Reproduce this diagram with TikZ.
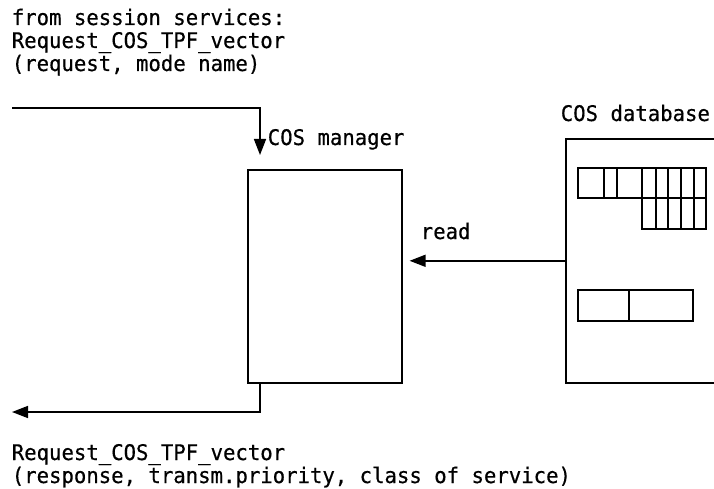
\documentclass[tikz,border=0pt]{standalone}
\usepackage{fontspec}
\setmonofont{DejaVu Sans Mono}[FakeStretch=0.96,FakeBold=0.5]
\usetikzlibrary{arrows.meta,calc}
\begin{document}
\begin{tikzpicture}[x=1pt,y=-1pt,line width=1.6pt,
  font=\ttfamily\fontsize{21.5}{22}\selectfont,
  lbl/.style={inner sep=0pt,anchor=base west},
  arr/.style={-{Triangle[length=16pt,width=12pt]}},
  box/.style={draw,inner sep=0pt,anchor=north west}]
\useasboundingbox (0,0) rectangle (714,489);
% labels
\node[lbl] (t1) at (11,25) {from session services:};
\node[lbl] (t2) at (11,48) {Request\_COS\_TPF\_vector};
\node[lbl] (t3) at (11,71) {(request, mode name)};
\node[lbl] (b1) at (11,460) {Request\_COS\_TPF\_vector};
\node[lbl] (b2) at (11,483) {(response, transm.priority, class of service)};
% boxes
\node[box,minimum width=154pt,minimum height=213pt] (mgr) at (247,169) {};
\node[lbl] (mgrl) at (267,145) {COS manager};
\node[box,minimum width=200pt,minimum height=244pt] (db) at (565,138) {};
\node[lbl] (dbl) at (560,121) {COS database};
\node[lbl] (readl) at (420,239) {read};
% tables in database
\draw (578,168) rectangle (706,198);
\foreach \x in {604,617,642,656,668,681,694} \draw (\x,168) -- (\x,198);
\draw (642,198) rectangle (706,229);
\foreach \x in {656,668,681,694} \draw (\x,198) -- (\x,229);
\draw (578,290) rectangle (693,321);
\draw (629,290) -- (629,321);
% connectors
\coordinate (in) at (12,108);
\coordinate (intip) at (260,155);
\coordinate (out) at (12,412);
\draw[arr] (in) -| (intip);
\draw[arr] (intip |- mgr.south) |- (out);
\draw[arr,shorten >=7pt] (db.west) -- (db.west -| mgr.east);
\end{tikzpicture}
\end{document}
